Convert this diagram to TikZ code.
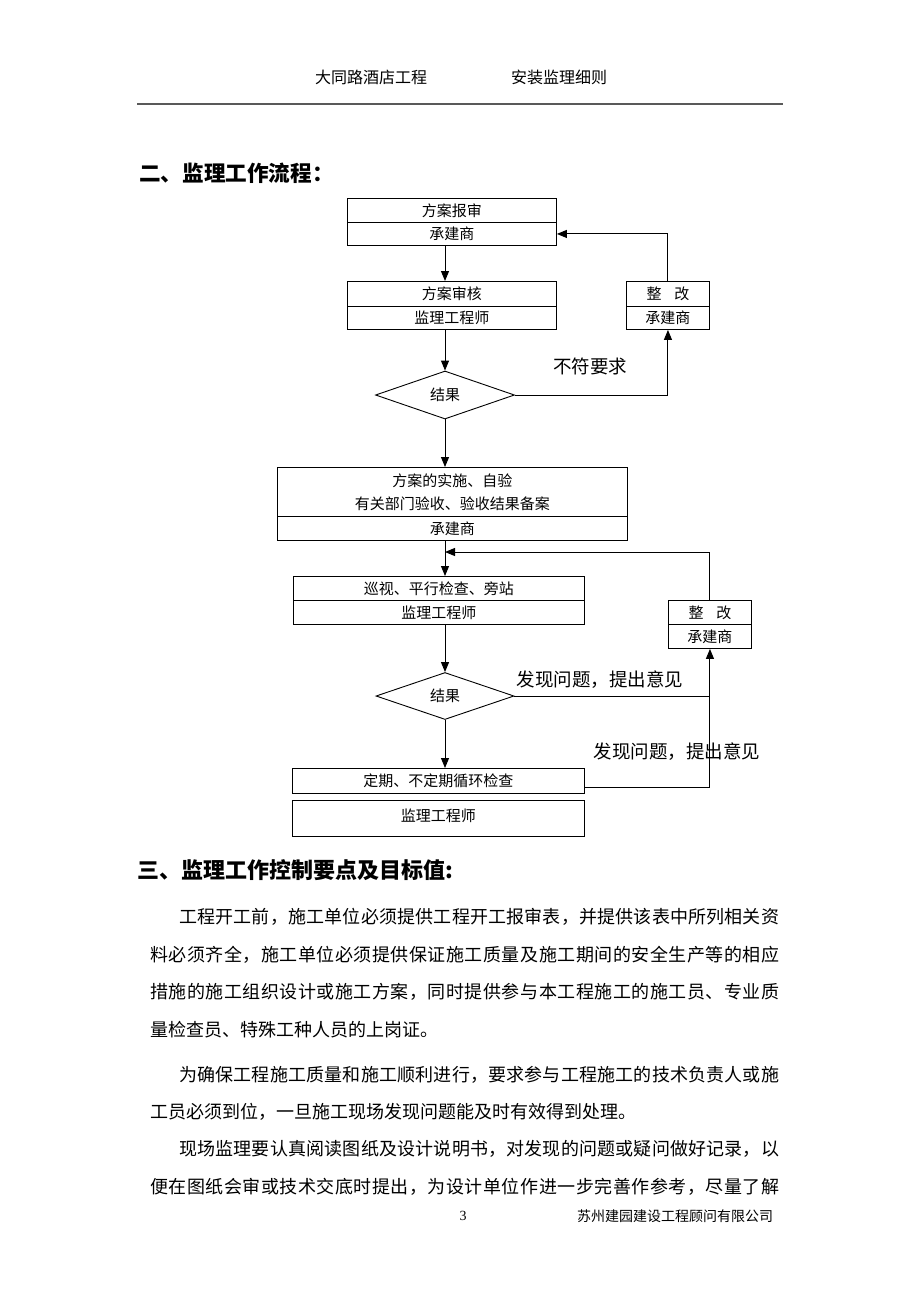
\documentclass[tikz,border=0pt]{standalone}
\usepackage{fontspec}
\setmainfont{Liberation Serif}
\newfontfamily\cjk{Noto Sans CJK SC}
\usetikzlibrary{shapes.geometric,arrows.meta}
\makeatletter
\def\spreadline#1#2{\hbox to #1{\sprd@a#2\relax}}
\def\sprd@a#1{#1\sprd@b}
\def\sprd@b#1{\ifx\relax#1\else\hfil#1\expandafter\sprd@b\fi}
\makeatother
\tikzset{
  cell/.style={draw, line width=0.9pt, inner sep=0pt, anchor=north west, font=\cjk\fontsize{15}{18}\selectfont},
  dia/.style={draw, diamond, line width=0.9pt, inner sep=0pt, font=\cjk\fontsize{15}{18}\selectfont},
  arr/.style={line width=1pt, -{Triangle[length=10pt,width=8pt]}},
  ln/.style={line width=1pt},
  lab/.style={inner sep=0pt, font=\cjk\fontsize{18.5}{20}\selectfont},
  body/.style={inner sep=0pt, anchor=west, font=\cjk\fontsize{18}{20}\selectfont},
  hdr/.style={inner sep=0pt, font=\cjk\fontsize{16}{18}\selectfont},
  heading/.style={inner sep=0pt, anchor=west, font=\cjk\bfseries\fontsize{21.6}{24}\selectfont},
}
\begin{document}
\begin{tikzpicture}[x=1pt,y=-1pt]
\useasboundingbox (0,0) rectangle (920,1302);
\fill[white] (0,0) rectangle (920,1302);

% header
\node[hdr] (h1) at (371,77) {大同路酒店工程};
\node[hdr] (h2) at (559,77) {安装监理细则};
\draw[black!65, line width=1.6pt] (137,104) -- (783,104);

\node[heading] (s2) at (139,173) {二、监理工作流程：};

% flowchart
\node[cell, minimum width=209pt, minimum height=24pt] (b1t) at (347,198) {方案报审};
\node[cell, minimum width=209pt, minimum height=23pt] (b1b) at (347,222) {承建商};
\node[cell, minimum width=209pt, minimum height=25pt] (b2t) at (347,281) {方案审核};
\node[cell, minimum width=209pt, minimum height=23pt] (b2b) at (347,306) {监理工程师};
\node[cell, minimum width=83pt, minimum height=25pt] (z1t) at (626,281) {整\hspace{0.85em}改};
\node[cell, minimum width=83pt, minimum height=23pt] (z1b) at (626,306) {承建商};
\node[dia, minimum width=139pt, minimum height=48pt] (d1) at (445,395) {结果};
\node[cell, minimum width=350pt, minimum height=49pt, align=center] (b3t) at (277,467) {方案的实施、自验\\[5pt]有关部门验收、验收结果备案};
\node[cell, minimum width=350pt, minimum height=24pt] (b3b) at (277,516) {承建商};
\node[cell, minimum width=291pt, minimum height=24pt] (b4t) at (293,576) {巡视、平行检查、旁站};
\node[cell, minimum width=291pt, minimum height=24pt] (b4b) at (293,600) {监理工程师};
\node[cell, minimum width=83pt, minimum height=24pt] (z2t) at (668,600) {整\hspace{0.85em}改};
\node[cell, minimum width=83pt, minimum height=24pt] (z2b) at (668,624) {承建商};
\node[dia, minimum width=138pt, minimum height=47pt] (d2) at (445,696) {结果};
\node[cell, minimum width=292pt, minimum height=25pt] (b5) at (292,768) {定期、不定期循环检查};
\node[cell, minimum width=292pt, minimum height=36pt] (b6) at (292,800) {\raisebox{6pt}{监理工程师}};

\node[lab] (t1) at (590,366) {不符要求};
\node[lab] (t2) at (600,680) {发现问题，提出意见};
\node[lab] (t3) at (677,752) {发现问题，提出意见};

\coordinate (j2) at (445,552);
\coordinate (jr) at (709,695);

\draw[arr] (b1b.south -| d1.north) -- (b2t.north -| d1.north);
\draw[arr] (b2b.south -| d1.north) -- (d1.north);
\draw[arr] (z1t.north) |- (b1b.east);
\draw[arr] (d1.east) -| (z1b.south);
\draw[arr] (d1.south) -- (b3t.north -| d1.south);
\draw[arr] (b3b.south -| d1.north) -- (b4t.north -| d1.north);
\draw[arr] (z2t.north) |- (j2);
\draw[arr] (b4b.south -| d2.north) -- (d2.north);
\draw[arr] (d2.east) -| (z2b.south);
\draw[arr] (d2.south) -- (b5.north -| d2.south);
\draw[ln] ([yshift=-6.5pt]b5.east) -| (jr);

% section 3
\node[heading, font=\cjk\bfseries\fontsize{22}{24}\selectfont] (s3) at (137,870) {三、监理工作控制要点及目标值:};

\node[body] (p1) at (179,917) {\spreadline{600pt}{工程开工前，施工单位必须提供工程开工报审表，并提供该表中所列相关资}};
\node[body] (p2) at (150,955) {\spreadline{629pt}{料必须齐全，施工单位必须提供保证施工质量及施工期间的安全生产等的相应}};
\node[body] (p3) at (150,992) {\spreadline{629pt}{措施的施工组织设计或施工方案，同时提供参与本工程施工的施工员、专业质}};
\node[body] (p4) at (150,1030) {量检查员、特殊工种人员的上岗证。};
\node[body] (p5) at (179,1075) {\spreadline{600pt}{为确保工程施工质量和施工顺利进行，要求参与工程施工的技术负责人或施}};
\node[body] (p6) at (150,1112) {工员必须到位，一旦施工现场发现问题能及时有效得到处理。};
\node[body] (p7) at (179,1149) {\spreadline{600pt}{现场监理要认真阅读图纸及设计说明书，对发现的问题或疑问做好记录，以}};
\node[body] (p8) at (150,1187) {\spreadline{629pt}{便在图纸会审或技术交底时提出，为设计单位作进一步完善作参考，尽量了解}};

% footer
\node[inner sep=0pt, font=\fontsize{14}{16}\selectfont] (pg) at (463,1216) {3};
\node[inner sep=0pt, font=\cjk\fontsize{14}{16}\selectfont] (co) at (675,1216) {苏州建园建设工程顾问有限公司};
\end{tikzpicture}
\end{document}
